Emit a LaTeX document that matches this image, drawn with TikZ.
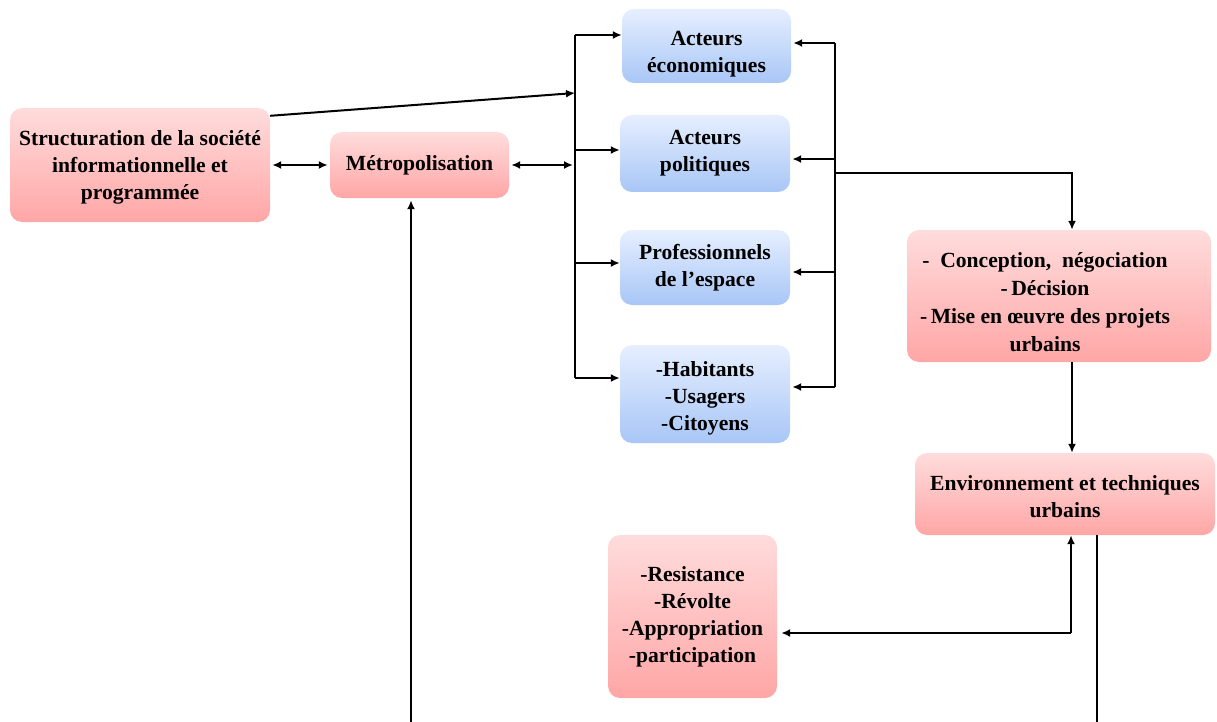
\documentclass[tikz,border=0pt]{standalone}
\usepackage{fontspec}
\setmainfont{Liberation Serif}
\usetikzlibrary{arrows.meta,calc}
\definecolor{pinktop}{RGB}{255,220,220}
\definecolor{pinkbot}{RGB}{255,166,166}
\definecolor{bluetop}{RGB}{230,239,255}
\definecolor{bluebot}{RGB}{168,198,246}
% invisible strut that pushes the first line of a box down
\newcommand\firstgap[1]{\rule{0pt}{#1}}
\begin{document}
\begin{tikzpicture}[x=1pt,y=-1pt,
  box/.style={rounded corners=12pt, inner sep=0pt, align=center,
    font=\fontsize{21.6}{27}\selectfont\bfseries, text=black},
  pinkbox/.style={box, top color=pinktop, bottom color=pinkbot},
  bluebox/.style={box, top color=bluetop, bottom color=bluebot},
  conn/.style={line width=2pt},
  arr/.style={conn, -{Latex[length=9pt,width=8pt]}},
  darr/.style={conn, {Latex[length=9pt,width=8pt]}-{Latex[length=9pt,width=8pt]}}]
\useasboundingbox (0,0) rectangle (1217,722);

% boxes
\node[pinkbox, minimum width=260pt, minimum height=114pt] (struct) at (140,165)
  {\firstgap{19pt}Structuration de la société\\informationnelle et\\programmée};
\node[pinkbox, minimum width=179pt, minimum height=66pt] (metro) at (419.5,165)
  {Métropolisation};
\node[bluebox, minimum width=169pt, minimum height=74pt] (eco) at (706.5,46)
  {\firstgap{31pt}Acteurs\\économiques};
\node[bluebox, minimum width=170pt, minimum height=77pt] (pol) at (705,153.5)
  {Acteurs\\politiques};
\node[bluebox, minimum width=170pt, minimum height=75pt] (pro) at (705,267.5)
  {Professionnels\\de l’espace};
\node[bluebox, minimum width=170pt, minimum height=98pt] (hab) at (705,394)
  {\firstgap{23pt}-Habitants\\-Usagers\\-Citoyens};
\node[pinkbox, minimum width=304pt, minimum height=132pt] (conc) at (1059,296)
  {\begin{tabular}{@{}c@{}}\firstgap{35pt}-\ \ Conception,\ \ négociation\\[1pt]
   -\,Décision\\[1pt]
   -\,Mise en œuvre des projets\\[1pt]
   urbains\end{tabular}\hspace*{28pt}};
\node[pinkbox, minimum width=300pt, minimum height=82pt] (env) at (1065,494)
  {\firstgap{21pt}Environnement et techniques\\urbains};
\node[pinkbox, minimum width=169pt, minimum height=163pt] (res) at (692.5,616.5)
  {-Resistance\\-Révolte\\-Appropriation\\-participation};

% left distribution bus
\coordinate (bl1) at (575,35);
\coordinate (bl2) at (575,93);
\coordinate (bl3) at (575,150);
\coordinate (bl4) at (575,165);
\coordinate (bl5) at (575,263);
\coordinate (bl6) at (575,378);
\draw[conn] (bl1) -- (bl6);
\draw[arr] (bl1) -- (bl1 -| eco.west);
\draw[arr] (bl3) -- (bl3 -| pol.west);
\draw[arr] (bl5) -- (bl5 -| pro.west);
\draw[arr] (bl6) -- (bl6 -| hab.west);

% right collecting bus
\coordinate (br1) at (835,43);
\coordinate (br2) at (835,159);
\coordinate (br3) at (835,173);
\coordinate (br4) at (835,272);
\coordinate (br5) at (835,387);
\draw[conn] (br1) -- (br5);
\draw[arr] (br1) -- ([xshift=2pt]br1 -| eco.east);
\draw[arr] (br2) -- ([xshift=2pt]br2 -| pol.east);
\draw[arr] (br4) -- ([xshift=2pt]br4 -| pro.east);
\draw[arr] (br5) -- ([xshift=2pt]br5 -| hab.east);

% left part links
\draw[arr] ([yshift=-8pt]struct.north east) -- (bl2);
\draw[darr] ([xshift=2pt]struct.east) -- ([xshift=-2pt]metro.west);
\draw[darr] ([xshift=2pt]metro.east) -- ([xshift=-2pt]bl4);

% right column
\coordinate (kc) at (1072,173);
\draw[arr] (br3) -- (kc) -- (kc |- conc.north);
\draw[arr] (kc |- conc.south) -- (kc |- env.north);
\coordinate (kr) at (1071,633);
\draw[arr] (kr) -- (kr |- env.south);
\draw[arr] (kr) -- ([xshift=4pt]kr -| res.east);

% lines leaving the bottom
\coordinate (bot1) at (411,722);
\draw[arr] (bot1) -- ([yshift=-2pt]bot1 |- metro.south);
\coordinate (bot2) at (1097,722);
\draw[conn] (bot2 |- env.south) -- (bot2);
\end{tikzpicture}
\end{document}
